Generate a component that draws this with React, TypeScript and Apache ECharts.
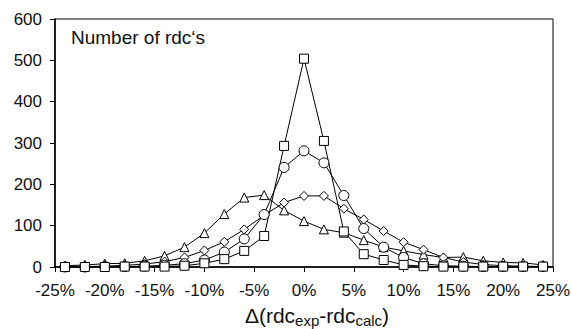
import React, { useEffect, useRef } from "react";
import * as echarts from "echarts";

const xValues = [-24, -22, -20, -18, -16, -14, -12, -10, -8, -6, -4, -2, 0, 2, 4, 6, 8, 10, 12, 14, 16, 18, 20, 22, 24];
const triangleSeries = [3, 5, 8, 9, 15, 27, 48, 82, 128, 168, 174, 137, 111, 91, 83, 65, 48, 39, 30, 23, 24, 15, 11, 10, 5];
const diamondSeries = [1, 1, 2, 4, 7, 13, 23, 40, 61, 91, 125, 156, 172, 172, 141, 115, 87, 60, 42, 23, 12, 6, 3, 2, 1];
const circleSeries = [0, 0, 1, 1, 2, 4, 8, 17, 36, 68, 127, 241, 281, 252, 173, 93, 48, 23, 8, 3, 2, 1, 1, 1, 1];
const squareSeries = [0, 0, 0, 1, 1, 1, 3, 9, 19, 39, 75, 293, 504, 305, 86, 31, 17, 5, 2, 1, 1, 1, 1, 1, 1];
const yTicks = [0, 100, 200, 300, 400, 500, 600];
const chartTitle = "Number of rdc\u2018s";

const FONT = "'Liberation Sans', Arial, Helvetica, sans-serif";

function makeSeries(name: string, values: number[], symbol: string, size: number) {
  return {
    name,
    type: "line",
    data: xValues.map((x, i) => [x, values[i]]),
    symbol,
    symbolSize: size,
    showAllSymbol: true,
    lineStyle: { color: "#000", width: 1 },
    itemStyle: { color: "#fff", borderColor: "#000", borderWidth: 1 },
    z: 3,
  };
}

export default function App() {
  const ref = useRef<HTMLDivElement>(null);
  useEffect(() => {
    document.body.style.margin = "0";
    const chart = echarts.init(ref.current!, null, { renderer: "svg" });
    chart.setOption({
      animation: false,
      backgroundColor: "#fff",
      textStyle: { fontFamily: FONT },
      title: {
        text: chartTitle,
        left: 71,
        top: 28,
        padding: 0,
        textStyle: { fontFamily: FONT, fontSize: 19, fontWeight: "normal", color: "#111" },
      },
      grid: {
        left: 55,
        right: 19,
        top: 19,
        bottom: 62,
        outerBoundsMode: "none",
        containLabel: false,
        show: true,
        borderColor: "#000",
        borderWidth: 1,
        backgroundColor: "transparent",
      },
      xAxis: {
        type: "value",
        min: -25,
        max: 25,
        interval: 5,
        splitLine: { show: false },
        axisLine: { onZero: false, lineStyle: { color: "#000", width: 1.5 } },
        axisTick: { show: true, inside: false, length: 5, lineStyle: { color: "#000", width: 1 } },
        axisLabel: {
          formatter: (v: number) => v + "%",
          fontFamily: FONT,
          fontSize: 17,
          color: "#111",
          margin: 15,
        },
        name: "\u0394(rdc{sub|exp}-rdc{sub|calc})",
        nameLocation: "middle",
        nameGap: 36,
        nameTextStyle: {
          fontFamily: FONT,
          fontSize: 21,
          color: "#111",
          padding: [0, 0, 0, 26],
          rich: {
            sub: { fontFamily: FONT, fontSize: 15, color: "#111", padding: [10, 0, 0, 0] },
          },
        },
      },
      yAxis: {
        type: "value",
        min: yTicks[0],
        max: yTicks[yTicks.length - 1],
        interval: 100,
        splitLine: { show: false },
        axisLine: { show: true, onZero: false, lineStyle: { color: "#000", width: 1.5 } },
        axisTick: { show: true, inside: false, length: 5, lineStyle: { color: "#000", width: 1 } },
        axisLabel: { fontFamily: FONT, fontSize: 17, color: "#111", margin: 13 },
      },
      series: [
        makeSeries("triangle", triangleSeries, "triangle", 9),
        makeSeries("diamond", diamondSeries, "diamond", 9),
        makeSeries("circle", circleSeries, "circle", 10),
        makeSeries("square", squareSeries, "rect", 9),
      ],
    });
    return () => chart.dispose();
  }, []);
  return <div ref={ref} style={{ width: 572, height: 329 }} />;
}
